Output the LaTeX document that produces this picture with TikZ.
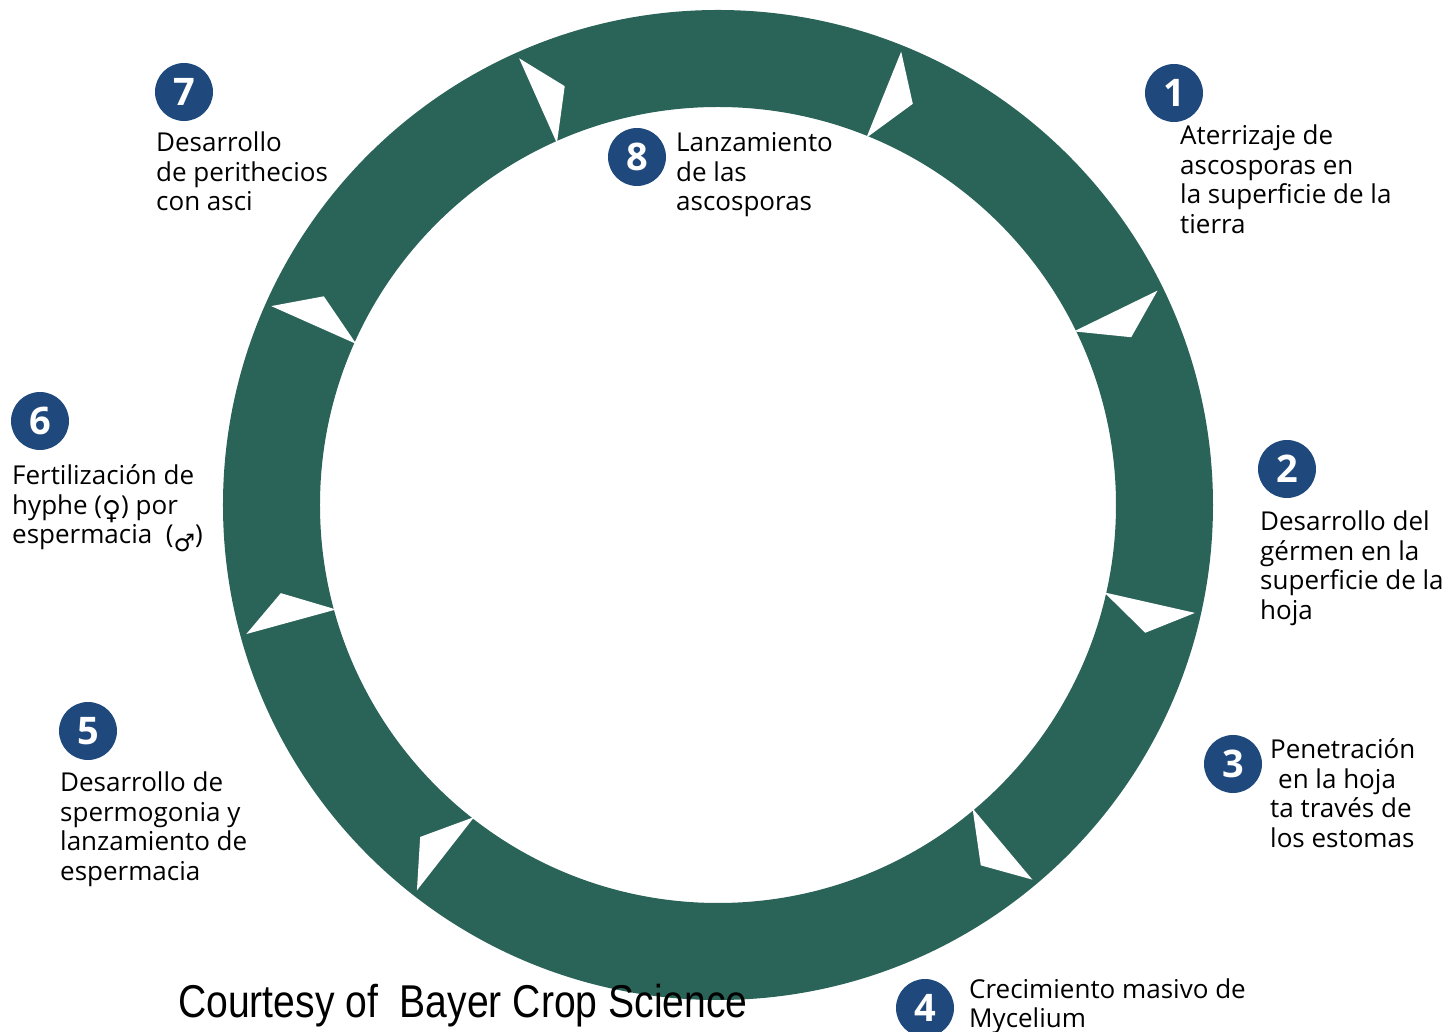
\documentclass[tikz,border=0pt]{standalone}
\usepackage{fontspec}
\setmainfont{Open Sans}
\newfontfamily\symfont{DejaVu Sans}
\newfontfamily\creditfont[FakeStretch=0.85]{Liberation Sans}
\definecolor{ringgreen}{HTML}{2A6358}
\definecolor{badgeblue}{HTML}{1F497D}

\begin{document}
\begin{tikzpicture}[x=1pt,y=1pt,
    badge/.style={circle,fill=badgeblue,text=white,minimum size=58pt,inner sep=0pt,
      font=\fontsize{38}{38}\selectfont\bfseries},
    stagetext/.style={anchor=base west,align=left,inner sep=0pt,
      font=\fontsize{26}{29.5}\selectfont}]
    \useasboundingbox (-718,-527) rectangle (731,505);
    \fill[ringgreen,even odd rule] (0,0) circle (495) (0,0) circle (398); %Ring
    \foreach \a in {156,114,68,26,-12.75,-50,-128,-164.7} {
      \fill[white] (\a:489) -- (\a-3.9:446) -- (\a:396) -- cycle;
    }
    % base anchor sits on the last line of each text
    \node[badge] (b1) at (456,412) {1};
    \node[stagetext] (s1) at (462,271.5) {Aterrizaje de\\ascosporas en\\la superficie de la\\tierra};
    %
    \node[badge] (b2) at (569,36) {2};
    \node[stagetext] (s2) at (542,-114.5) {Desarrollo del\\gérmen en la\\superficie de la\\hoja};
    %
    \node[badge] (b3) at (515,-259) {3};
    \node[stagetext] (s3) at (552,-342.5) {Penetración\\\hspace{8pt}en la hoja\\ta través de\\los estomas};
    %
    \node[badge] (b4) at (207,-503) {4};
    \node[stagetext] (s4) at (251,-522.5) {Crecimiento masivo de\\Mycelium};
    %
    \node[badge] (b5) at (-630,-226) {5};
    \node[stagetext] (s5) at (-658,-375.5) {Desarrollo de\\spermogonia y\\lanzamiento de\\espermacia};
    %
    \node[badge] (b6) at (-678,84) {6};
    \node[stagetext] (s6) at (-706,-39) {Fertilización de\\hyphe ({\symfont\fontsize{26}{26}\selectfont\raisebox{-5pt}{♀}}) por\\espermacia\ \ ({\symfont\fontsize{24}{24}\selectfont\raisebox{-8pt}{♂}})};
    %
    \node[badge] (b7) at (-534,413) {7};
    \node[stagetext] (s7) at (-562,294) {Desarrollo\\de perithecios\\con asci};
    %
    \node[badge] (b8) at (-81,348) {8};
    \node[stagetext] (s8) at (-42,294) {Lanzamiento\\de las\\ascosporas};
    %
    \node[anchor=base west,inner sep=0pt,font=\creditfont\fontsize{46}{46}\selectfont] (credit)
      at (-540,-513) {Courtesy of\ \ Bayer Crop Science};
\end{tikzpicture}
\end{document}
